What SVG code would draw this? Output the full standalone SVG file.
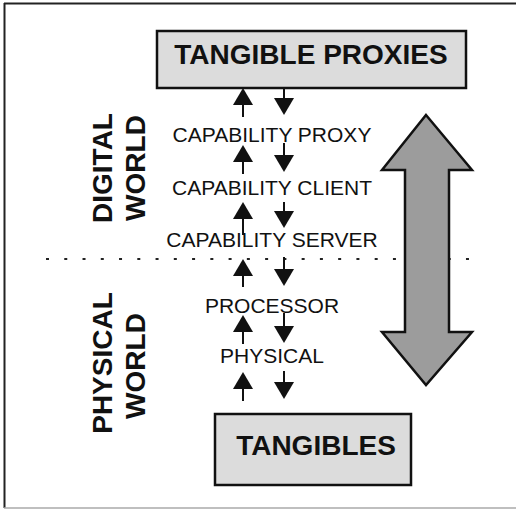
<svg xmlns="http://www.w3.org/2000/svg" width="516" height="512" viewBox="0 0 516 512">
<defs>
<style>
.box{fill:#dcdcdc;stroke:#111;stroke-width:2.5}
.big{font-family:"Liberation Sans",Arial,sans-serif;font-weight:bold;font-size:28px;fill:#111}
.lbl{font-family:"Liberation Sans",Arial,sans-serif;font-size:21px;fill:#111;text-anchor:middle}
.conn{stroke:#111;stroke-width:2;fill:none;marker-end:url(#ah)}
</style>
<marker id="ah" viewBox="0 0 17 20" markerUnits="userSpaceOnUse" markerWidth="17" markerHeight="20" refX="9" refY="10" orient="auto">
<path d="M0,0 L17,10 L0,20 z" fill="#111"/>
</marker>
</defs>
<rect width="516" height="512" fill="#fff"/>
<g id="frame">
<line x1="4" y1="3.5" x2="516" y2="3.5" stroke="#222" stroke-width="2"/>
<line x1="4.5" y1="3" x2="4.5" y2="508" stroke="#222" stroke-width="2"/>
<line x1="4" y1="508" x2="516" y2="508" stroke="#aaa" stroke-width="1.5"/>
</g>
<g id="divider">
<line x1="46" y1="259" x2="470" y2="259" stroke="#222" stroke-width="2" stroke-dasharray="3 15.26"/>
</g>
<g id="tangible-proxies">
<rect class="box" x="157" y="31" width="309" height="57"/>
<text class="big" x="311" y="64" text-anchor="middle">TANGIBLE PROXIES</text>
</g>
<g id="tangibles">
<rect class="box" x="215" y="414" width="196" height="71"/>
<text class="big" x="316" y="455" text-anchor="middle">TANGIBLES</text>
</g>
<g id="digital-world">
<text class="big" transform="translate(112,168) rotate(-90)" text-anchor="middle">DIGITAL</text>
<text class="big" transform="translate(145,168) rotate(-90)" text-anchor="middle">WORLD</text>
</g>
<g id="physical-world">
<text class="big" transform="translate(112,363) rotate(-90)" text-anchor="middle">PHYSICAL</text>
<text class="big" transform="translate(145,366) rotate(-90)" text-anchor="middle">WORLD</text>
</g>
<g id="capability-proxy"><text class="lbl" x="272" y="142">CAPABILITY PROXY</text></g>
<g id="capability-client"><text class="lbl" x="272" y="195">CAPABILITY CLIENT</text></g>
<g id="capability-server"><text class="lbl" x="272" y="247">CAPABILITY SERVER</text></g>
<g id="processor"><text class="lbl" x="272" y="313">PROCESSOR</text></g>
<g id="physical"><text class="lbl" x="272" y="363">PHYSICAL</text></g>
<g id="world-arrow">
<path d="M426,115 L472,170 L449,170 L449,332 L472,332 L426,385 L382,332 L405,332 L405,170 L382,170 z" fill="#9c9c9c" stroke="#111" stroke-width="2.5" stroke-linejoin="miter"/>
</g>
<g id="connectors">
<line class="conn" x1="243" y1="117" x2="243" y2="96"/>
<line class="conn" x1="284" y1="88" x2="284" y2="107"/>
<line class="conn" x1="243" y1="174" x2="243" y2="153"/>
<line class="conn" x1="284" y1="143" x2="284" y2="164"/>
<line class="conn" x1="243" y1="235" x2="243" y2="210"/>
<line class="conn" x1="284" y1="202" x2="284" y2="220"/>
<line class="conn" x1="243" y1="287" x2="243" y2="267"/>
<line class="conn" x1="284" y1="257" x2="284" y2="278"/>
<line class="conn" x1="243" y1="344" x2="243" y2="323"/>
<line class="conn" x1="284" y1="313" x2="284" y2="335"/>
<line class="conn" x1="243" y1="401" x2="243" y2="380"/>
<line class="conn" x1="284" y1="371" x2="284" y2="391"/>
</g>
</svg>
